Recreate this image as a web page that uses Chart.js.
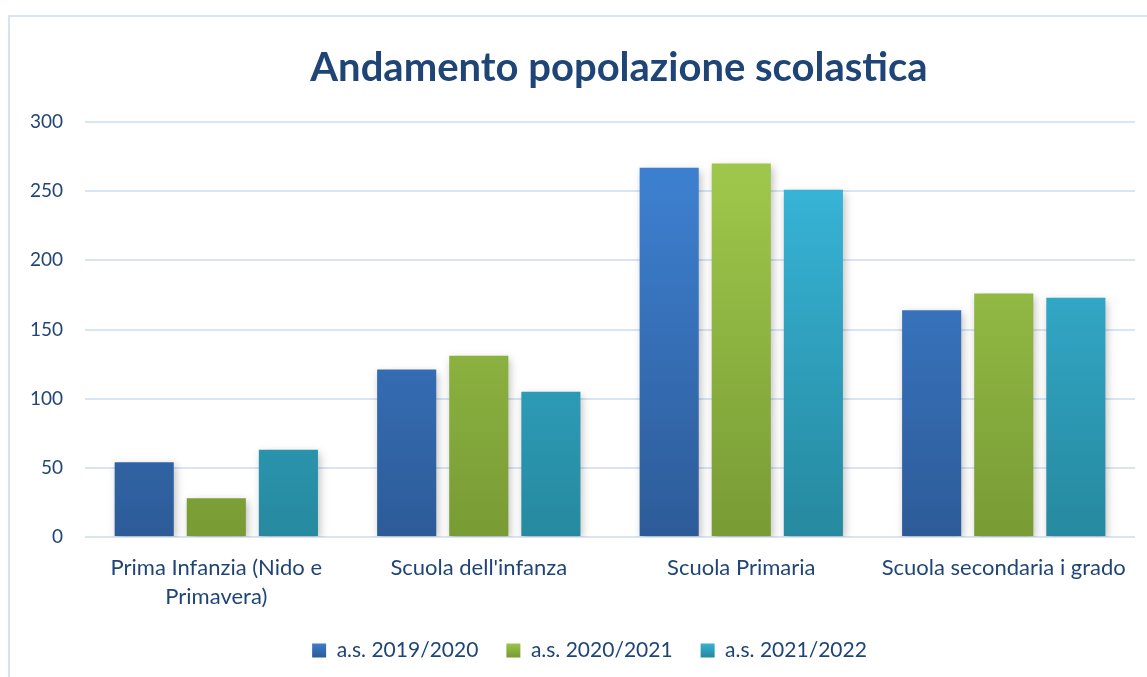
<!DOCTYPE html>
<html>
<head>
<meta charset="utf-8">
<script src="https://cdn.jsdelivr.net/npm/chart.js@4.4.1/dist/chart.umd.min.js"></script>
<style>
html,body{margin:0;padding:0;background:#fff;}
#wrap{position:relative;width:1147px;height:677px;}
</style>
</head>
<body>
<div id="wrap"><canvas id="c" width="1147" height="677"></canvas></div>
<script>
const titleText = 'Andamento popolazione scolastica';
const categories = [['Prima Infanzia (Nido e', 'Primavera)'], "Scuola dell'infanza", 'Scuola Primaria', 'Scuola secondaria i grado'];
const seriesNames = ['a.s. 2019/2020', 'a.s. 2020/2021', 'a.s. 2021/2022'];
const values2019 = [54, 121, 267, 164];
const values2020 = [28, 131, 270, 176];
const values2021 = [63, 105, 251, 173];
const yTicks = [0, 50, 100, 150, 200, 250, 300];

const topColors = ['#3D7FCF', '#9DC64A', '#37B4D7'];
const bottomColors = ['#2D5B98', '#789B35', '#26899F'];
const textColor = '#1F4577';

function grad(i){
  return function(ctx){
    const chart = ctx.chart;
    const area = chart.chartArea;
    if(!area) return topColors[i];
    const g = chart.ctx.createLinearGradient(0, area.top + 60, 0, area.bottom);
    g.addColorStop(0, topColors[i]);
    g.addColorStop(1, bottomColors[i]);
    return g;
  };
}

const frame = {
  id: 'frame',
  beforeDraw(chart){
    const c = chart.ctx;
    c.save();
    c.fillStyle = '#fff';
    c.fillRect(0,0,chart.width,chart.height);
    c.strokeStyle = '#D6E3F3';
    c.lineWidth = 2;
    c.strokeRect(9, 16, chart.width + 10, chart.height + 10);
    c.restore();
  }
};
const titleDraw = {
  id: 'titleDraw',
  afterDraw(chart){
    const c = chart.ctx;
    c.save();
    c.fillStyle = textColor;
    c.font = 'bold 40px Lato';
    c.textAlign = 'center';
    c.textBaseline = 'middle';
    c.fillText(titleText, 619, 68);
    c.restore();
  }
};
const legendShift = {
  id: 'legendShift',
  afterLayout(chart){
    if (chart.legend) chart.legend.left += 36;
  }
};
const shadow = {
  id: 'shadow',
  beforeDatasetsDraw(chart){
    const c = chart.ctx;
    c.save();
    c.shadowColor = 'rgba(0,0,0,0.25)';
    c.shadowBlur = 8;
    c.shadowOffsetX = 2;
    c.shadowOffsetY = 3;
  },
  afterDatasetsDraw(chart){
    chart.ctx.restore();
  }
};

const data = {
  labels: categories,
  datasets: [values2019, values2020, values2021].map((v, i) => ({
    label: seriesNames[i],
    data: v,
    backgroundColor: grad(i),
    borderWidth: 0,
    categoryPercentage: 0.824,
    barPercentage: 0.82
  }))
};

new Chart(document.getElementById('c'), {
  type: 'bar',
  data: data,
  plugins: [frame, shadow, titleDraw, legendShift],
  options: {
    responsive: false,
    animation: false,
    devicePixelRatio: 1,
    layout: { padding: { top: 122, left: 8, right: 12, bottom: 6 } },
    plugins: {
      title: { display: false },
      legend: {
        position: 'bottom',
        labels: {
          color: textColor,
          font: { family: 'Lato', size: 21 },
          boxWidth: 14,
          boxHeight: 14,
          padding: 28,
          generateLabels(chart){
            return chart.data.datasets.map((d, i) => ({
              text: d.label,
              fillStyle: (function(){
                const g = chart.ctx.createLinearGradient(0, 643, 0, 657);
                g.addColorStop(0, topColors[i]);
                g.addColorStop(1, bottomColors[i]);
                return g;
              })(),
              strokeStyle: 'rgba(0,0,0,0)',
              lineWidth: 0,
              fontColor: textColor,
              datasetIndex: i,
              hidden: false
            }));
          }
        }
      },
      tooltip: { enabled: false }
    },
    scales: {
      x: {
        grid: { display: false, drawTicks: false },
        border: { display: false },
        afterFit(axis){ axis.height = 75; },
        ticks: {
          color: textColor,
          font: { family: 'Lato', size: 22, lineHeight: 1.33 },
          padding: 16,
          maxRotation: 0,
          autoSkip: false
        }
      },
      y: {
        min: 0,
        max: 300,
        afterBuildTicks(axis){ axis.ticks = yTicks.map(v => ({ value: v })); },
        grid: { color: '#D9E5F2', lineWidth: 2, drawTicks: false },
        border: { display: false },
        ticks: {
          color: textColor,
          font: { family: 'Lato', size: 19 },
          padding: 22
        }
      }
    }
  }
});
</script>
</body>
</html>
